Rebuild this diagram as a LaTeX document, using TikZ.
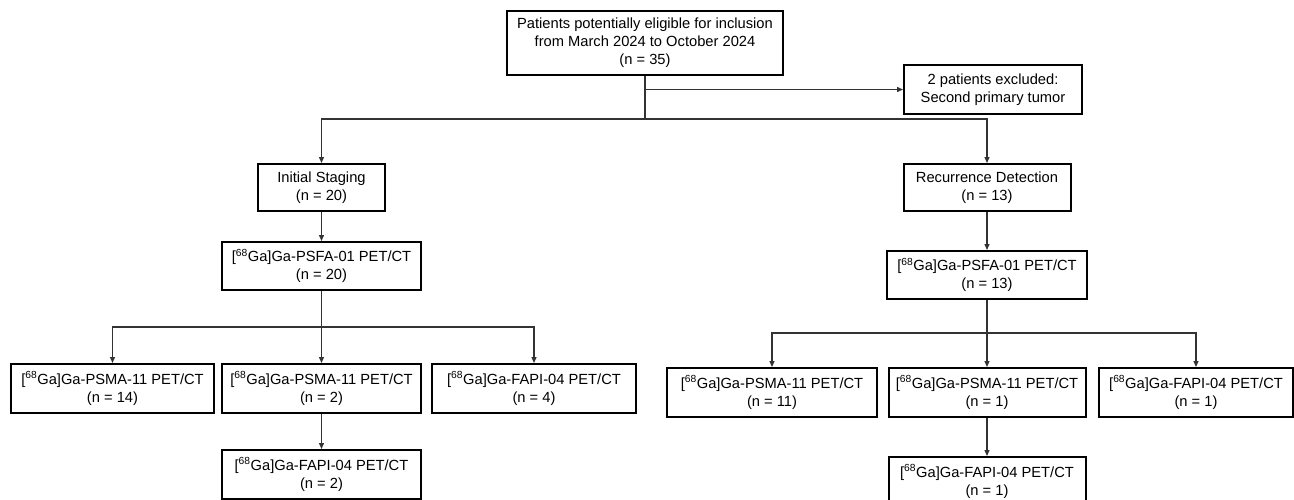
\documentclass[tikz,border=0pt]{standalone}
\usepackage{fontspec}
\setmainfont{Liberation Sans}
\usetikzlibrary{arrows.meta}
\tikzset{
  box/.style={draw=black, line width=2pt, align=center, inner sep=0pt,
    font=\fontsize{14.7}{18}\selectfont, minimum height=48},
  link/.style={line width=1.3pt, draw=black!80},
  arr/.style={link, -{Triangle[length=6pt,width=5pt]}}
}
\newcommand{\gapet}[1]{[\textsuperscript{68}Ga]Ga-#1 PET/CT}
\begin{document}
\begin{tikzpicture}[x=1pt,y=-1pt]
\useasboundingbox (0,0) rectangle (1294,499);

\node[box, minimum width=276, minimum height=64] (pool) at (645,43)
  {Patients potentially eligible for inclusion\\from March 2024 to October 2024\\(n = 35)};
\node[box, minimum width=178, minimum height=49] (excl) at (993,89.5)
  {2 patients excluded:\\Second primary tumor};

\node[box, minimum width=127, minimum height=47] (init) at (321.5,187.5) {Initial Staging\\(n = 20)};
\node[box, minimum width=167, minimum height=47] (recur) at (987,187.5) {Recurrence Detection\\(n = 13)};

\node[box, minimum width=199] (psfaL) at (321.5,266) {\gapet{PSFA-01}\\(n = 20)};
\node[box, minimum width=200] (psfaR) at (987,275) {\gapet{PSFA-01}\\(n = 13)};

% initial staging arm
\node[box, minimum width=203, minimum height=49] (L1) at (112.5,388.5) {\gapet{PSMA-11}\\(n = 14)};
\node[box, minimum width=199, minimum height=49] (L2) at (321.5,388.5) {\gapet{PSMA-11}\\(n = 2)};
\node[box, minimum width=204, minimum height=49] (L3) at (534,388.5) {\gapet{FAPI-04}\\(n = 4)};
\node[box, minimum width=199, minimum height=49] (L4) at (321.5,474.5) {\gapet{FAPI-04}\\(n = 2)};

% recurrence arm
\node[box, minimum width=210, minimum height=49] (R1) at (772,392.5) {\gapet{PSMA-11}\\(n = 11)};
\node[box, minimum width=197, minimum height=49] (R2) at (987,392.5) {\gapet{PSMA-11}\\(n = 1)};
\node[box, minimum width=194, minimum height=49] (R3) at (1196,392.5) {\gapet{FAPI-04}\\(n = 1)};
\node[box, minimum width=197, minimum height=49] (R4) at (987,481.5) {\gapet{FAPI-04}\\(n = 1)};

\coordinate (split) at (645,119);
\coordinate (splitL) at (321.5,327);
\coordinate (splitR) at (987,333);

\draw[link] (pool) -- (split);
\draw[arr] (pool.south |- excl.west) -- (excl.west);
\draw[arr] (split) -| (init);
\draw[arr] (split) -| (recur);

\draw[arr] (init) -- (psfaL);
\draw[link] (psfaL) -- (splitL);
\foreach \b in {L1,L2,L3}
  \draw[arr] (splitL) -| (\b);
\draw[arr] (L2) -- (L4);

\draw[arr] (recur) -- (psfaR);
\draw[link] (psfaR) -- (splitR);
\foreach \b in {R1,R2,R3}
  \draw[arr] (splitR) -| (\b);
\draw[arr] (R2) -- (R4);
\end{tikzpicture}
\end{document}
